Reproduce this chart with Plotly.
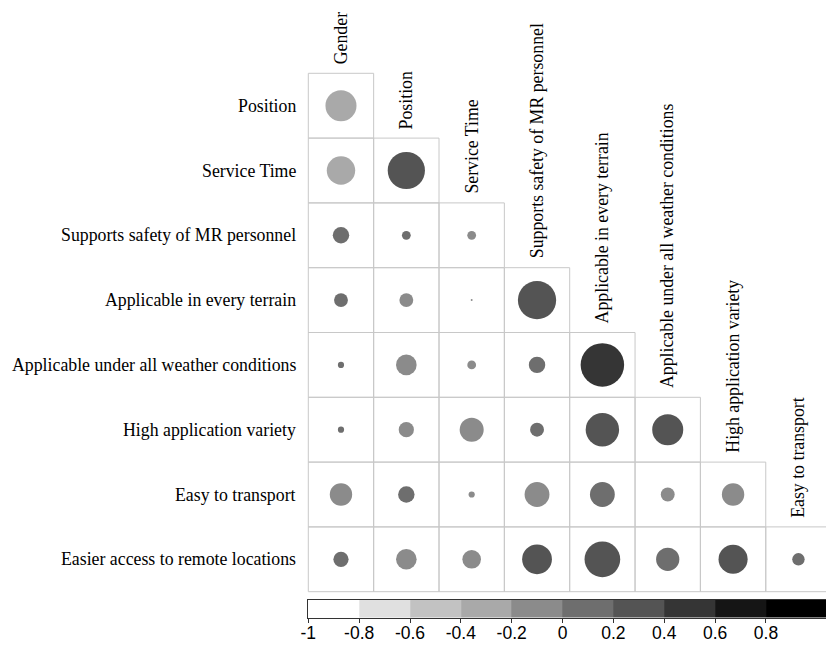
import numpy as np
import plotly.graph_objects as go

# Variables of the survey correlation matrix (lower triangle shown)
row_labels = [
    "Position",
    "Service Time",
    "Supports safety of MR personnel",
    "Applicable in every terrain",
    "Applicable under all weather conditions",
    "High application variety",
    "Easy to transport",
    "Easier access to remote locations",
]
col_labels = [
    "Gender",
    "Position",
    "Service Time",
    "Supports safety of MR personnel",
    "Applicable in every terrain",
    "Applicable under all weather conditions",
    "High application variety",
    "Easy to transport",
]

# Correlation coefficients, one list per row (columns 0..row)
corr_position = [-0.25]
corr_service_time = [-0.21, 0.36]
corr_supports_safety = [0.07, 0.02, -0.02]
corr_every_terrain = [0.05, -0.05, -0.001, 0.38]
corr_all_weather = [0.01, -0.11, -0.02, 0.07, 0.49]
corr_application_variety = [0.01, -0.06, -0.15, 0.05, 0.29, 0.25]
corr_easy_transport = [-0.13, 0.07, -0.01, -0.16, 0.16, -0.05, -0.13]
corr_remote_access = [0.06, -0.11, -0.09, 0.23, 0.33, 0.14, 0.22, 0.04]

corr_rows = [
    corr_position,
    corr_service_time,
    corr_supports_safety,
    corr_every_terrain,
    corr_all_weather,
    corr_application_variety,
    corr_easy_transport,
    corr_remote_access,
]

# Colour legend: ten grey classes from -1 to 1
legend_breaks = [-1.0, -0.8, -0.6, -0.4, -0.2, 0.0, 0.2, 0.4, 0.6, 0.8, 1.0]
legend_ticks = [-1.0, -0.8, -0.6, -0.4, -0.2, 0.0, 0.2, 0.4, 0.6, 0.8]
legend_ticktext = ["-1", "-0.8", "-0.6", "-0.4", "-0.2", "0", "0.2", "0.4", "0.6", "0.8"]
greys = ["#ffffff", "#e0e0e0", "#c2c2c2", "#a9a9a9", "#8b8b8b",
         "#6e6e6e", "#545454", "#353535", "#151515", "#000000"]

# ---- geometry (pixels) ----
W, H = 826, 650
grid_left, cell_w = 308.3, 65.35
grid_top, cell_h = 73.3, 64.8
bar_top, bar_bottom = 600.0, 617.5
bar_px_per_unit = 50.85 / 0.2

SERIF = "Liberation Serif, Times New Roman, serif"
SANS = "Liberation Sans, Arial, sans-serif"


def grey_for(r):
    k = int(np.floor((r + 1) / 2 * len(greys)))
    return greys[min(max(k, 0), len(greys) - 1)]


# axis ranges so that cell centres fall on integer indices
x_range = [(0 - grid_left) / cell_w - 0.5, (W - grid_left) / cell_w - 0.5]
y_range = [(H - grid_top) / cell_h - 0.5, (0 - grid_top) / cell_h - 0.5]

xs, ys, sizes, colors, texts = [], [], [], [], []
for r, vals in enumerate(corr_rows):
    for c, v in enumerate(vals):
        xs.append(c)
        ys.append(r)
        sizes.append(0.95 * np.sqrt(abs(v)) * cell_w)
        colors.append(grey_for(v))
        texts.append(f"{row_labels[r]} / {col_labels[c]}: {v:.2f}")

fig = go.Figure()

fig.add_trace(go.Scatter(
    x=xs, y=ys, mode="markers",
    marker=dict(size=sizes, color=colors, opacity=1, line=dict(width=0)),
    text=texts, hoverinfo="text", showlegend=False,
    xaxis="x", yaxis="y",
))

# colour legend bar
bar_domain_x0 = grid_left / W
bar_x_end = -1 + (W - grid_left) / bar_px_per_unit
edges = list(legend_breaks[:-1]) + [max(legend_breaks[-1], bar_x_end)]
mids = [(legend_breaks[i] + legend_breaks[i + 1]) / 2 for i in range(len(greys))]
cscale = []
for i, g in enumerate(greys):
    cscale.append([i / len(greys), g])
    cscale.append([(i + 1) / len(greys), g])
fig.add_trace(go.Heatmap(
    x=edges, y=[0, 1], z=[mids], zmin=-1, zmax=1,
    colorscale=cscale, showscale=False, hoverinfo="skip",
    xaxis="x2", yaxis="y2",
))

shapes = []
for r in range(len(row_labels)):
    for c in range(r + 1):
        shapes.append(dict(
            type="rect", xref="x", yref="y",
            x0=c - 0.5, x1=c + 0.5, y0=r - 0.5, y1=r + 0.5,
            line=dict(color="#c8c8c8", width=1), layer="below",
        ))

annotations = []
for r, lab in enumerate(row_labels):
    annotations.append(dict(
        x=-0.5, y=r, xref="x", yref="y", text=lab, showarrow=False,
        xanchor="right", yanchor="middle", xshift=-10,
        font=dict(family=SERIF, size=17.8, color="black"),
    ))
for c, lab in enumerate(col_labels):
    annotations.append(dict(
        x=c, y=c - 0.5, xref="x", yref="y", text=lab, showarrow=False,
        textangle=-90, xanchor="center", yanchor="bottom", yshift=7,
        font=dict(family=SERIF, size=17.8, color="black"),
    ))

fig.update_layout(
    width=W, height=H,
    margin=dict(l=0, r=0, t=0, b=0, pad=0, autoexpand=False),
    paper_bgcolor="white", plot_bgcolor="rgba(0,0,0,0)",
    xaxis=dict(domain=[0, 1], range=x_range, visible=False, fixedrange=True),
    yaxis=dict(domain=[0, 1], range=y_range, visible=False, fixedrange=True),
    xaxis2=dict(
        domain=[bar_domain_x0, 1], range=[-1, bar_x_end], anchor="y2",
        showline=True, mirror=True, linecolor="#333333", linewidth=1,
        ticks="outside", ticklen=4, tickcolor="#333333",
        tickvals=legend_ticks, ticktext=legend_ticktext,
        tickfont=dict(family=SANS, size=17.5, color="black"),
        ticklabelstandoff=-5, automargin=False,
        showgrid=False, zeroline=False, fixedrange=True,
    ),
    yaxis2=dict(
        domain=[1 - bar_bottom / H, 1 - bar_top / H], range=[0, 1], anchor="x2",
        showline=True, mirror=True, linecolor="#333333", linewidth=1,
        showticklabels=False, ticks="", showgrid=False, zeroline=False,
        automargin=False, fixedrange=True,
    ),
    shapes=shapes,
    annotations=annotations,
)

fig.write_html("out.html")
